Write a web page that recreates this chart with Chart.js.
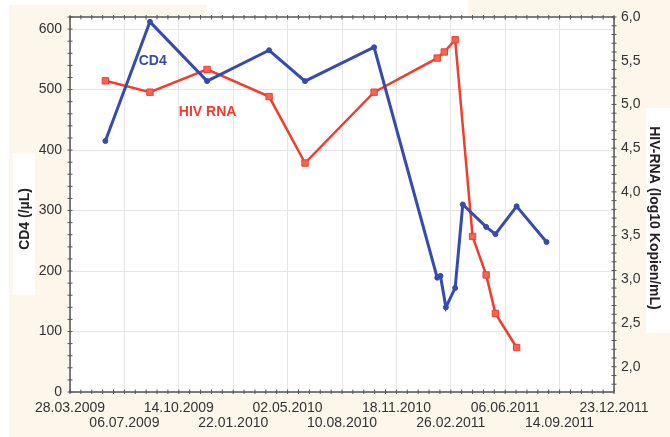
<!DOCTYPE html>
<html>
<head>
<meta charset="utf-8">
<script src="https://cdn.jsdelivr.net/npm/chart.js@4.4.1/dist/chart.umd.min.js"></script>
<style>
  html, body { margin: 0; padding: 0; background: #fcf7ea; }
</style>
</head>
<body>
<canvas id="grafico" width="670" height="437"></canvas>
<script>
// x ticks, every 100 days
const tickDates = ["28.03.2009", "06.07.2009", "14.10.2009", "22.01.2010", "02.05.2010", "10.08.2010",
                   "18.11.2010", "26.02.2011", "06.06.2011", "14.09.2011", "23.12.2011"];
const cd4Ticks = [0, 100, 200, 300, 400, 500, 600];
const rnaTicks = [2.0, 2.5, 3.0, 3.5, 4.0, 4.5, 5.0, 5.5, 6.0];

// CD4 (/µL)
const cd4Dates = ["01.06.2009", "22.08.2009", "05.12.2009", "29.03.2010", "03.06.2010", "08.10.2010",
                  "01.02.2011", "07.02.2011", "17.02.2011", "06.03.2011", "20.03.2011", "02.05.2011",
                  "19.05.2011", "27.06.2011", "21.08.2011"];
const cd4Values = [415, 612, 514, 565, 514, 570, 189, 192, 140, 172, 310, 273, 261, 307, 248];

// HIV-RNA (log10 Kopien/mL)
const rnaDates = ["01.06.2009", "22.08.2009", "05.12.2009", "29.03.2010", "03.06.2010", "08.10.2010",
                  "01.02.2011", "14.02.2011", "06.03.2011", "07.04.2011", "02.05.2011", "19.05.2011",
                  "27.06.2011"];
const rnaValues = [5.27, 5.14, 5.40, 5.09, 4.33, 5.14, 5.53, 5.60, 5.74, 3.49, 3.05, 2.61, 2.22];

const azul = "rgb(55,75,175)";
const rojo = "rgb(242,60,44)";
const crema = "#fcf7ea";

// days since first tick
const aDias = (s) => {
  const [d, m, y] = s.split(".").map(Number);
  return (Date.UTC(y, m - 1, d) - Date.UTC(2009, 2, 28)) / 86400000;
};
const comaDecimal = (v) => v.toFixed(1).replace(".", ",");

const fondo = {
  id: "fondo",
  beforeDraw(chart) {
    const ctx = chart.ctx;
    const a = chart.chartArea;
    ctx.save();
    ctx.fillStyle = crema;
    ctx.fillRect(0, 0, chart.width, chart.height);
    ctx.fillStyle = "#ffffff";
    ctx.fillRect(0, 0, 468, 5);
    ctx.fillRect(207, 0, 261, 17);
    ctx.fillRect(0, 0, 9, chart.height);
    ctx.fillRect(13, 153, 22, 142);
    ctx.fillRect(646, 108, 24, 225);
    ctx.fillRect(a.left, a.top, a.right - a.left, a.bottom - a.top);
    ctx.restore();
  }
};

const marco = {
  id: "marco",
  afterDraw(chart) {
    const ctx = chart.ctx;
    const a = chart.chartArea;
    const sx = chart.scales.x, sy = chart.scales.y, sr = chart.scales.y1;
    ctx.save();
    ctx.strokeStyle = "#555";
    ctx.lineWidth = 1.5;
    ctx.strokeRect(a.left, a.top, a.right - a.left, a.bottom - a.top);
    ctx.lineWidth = 1;
    ctx.beginPath();
    for (let d = 0; d <= 1000; d += 20) {
      const px = sx.getPixelForValue(d);
      ctx.moveTo(px, a.bottom - 2.5); ctx.lineTo(px, a.bottom + 2);
      ctx.moveTo(px, a.top - 2); ctx.lineTo(px, a.top + 2.5);
    }
    for (let v = 0; v <= 620; v += 20) {
      const py = sy.getPixelForValue(v);
      ctx.moveTo(a.left - 2.5, py); ctx.lineTo(a.left + 2.5, py);
    }
    for (let i = 18; i <= 60; i++) {
      const py = sr.getPixelForValue(i / 10);
      ctx.moveTo(a.right - 2.5, py); ctx.lineTo(a.right + 2.5, py);
    }
    ctx.stroke();

    // axis titles
    ctx.fillStyle = "#222";
    ctx.font = "bold 14px 'Liberation Sans', Arial, sans-serif";
    ctx.textAlign = "center";
    ctx.textBaseline = "middle";
    ctx.translate(25, 219);
    ctx.rotate(-Math.PI / 2);
    ctx.fillText("CD4 (/µL)", 0, 0);
    ctx.setTransform(1, 0, 0, 1, 0, 0);
    ctx.translate(654, 218);
    ctx.rotate(Math.PI / 2);
    ctx.fillText("HIV-RNA (log10 Kopien/mL)", 0, 0);
    ctx.setTransform(1, 0, 0, 1, 0, 0);

    // series labels
    ctx.fillStyle = azul;
    ctx.fillText("CD4", sx.getPixelForValue(152), sy.getPixelForValue(547));
    ctx.fillStyle = rojo;
    ctx.fillText("HIV RNA", sx.getPixelForValue(253), sy.getPixelForValue(463));
    ctx.restore();
  }
};

const fuenteTicks = { family: "'Liberation Sans', Arial, sans-serif", size: 14, lineHeight: 1.1 };

const data = {
  datasets: [
    {
      label: "CD4",
      data: cd4Dates.map((d, i) => ({ x: aDias(d), y: cd4Values[i] })),
      borderColor: azul,
      backgroundColor: azul,
      borderWidth: 3,
      pointStyle: "circle",
      pointRadius: 2.5,
      pointBorderWidth: 1,
      yAxisID: "y",
      order: 1
    },
    {
      label: "HIV RNA",
      data: rnaDates.map((d, i) => ({ x: aDias(d), y: rnaValues[i] })),
      borderColor: rojo,
      backgroundColor: "rgb(246,100,86)",
      borderWidth: 2.5,
      pointStyle: "rect",
      pointRadius: 4.5,
      pointBorderWidth: 1,
      yAxisID: "y1",
      order: 2
    }
  ]
};

const config = {
  type: "line",
  data: data,
  options: {
    responsive: false,
    animation: false,
    layout: { padding: { top: 17, left: 0, right: 0, bottom: 0 } },
    plugins: { legend: { display: false }, tooltip: { enabled: false } },
    elements: { line: { tension: 0 } },
    scales: {
      x: {
        type: "linear",
        min: 0,
        max: 1000,
        afterBuildTicks: (s) => { s.ticks = tickDates.map((t) => ({ value: aDias(t) })); },
        afterFit: (s) => { s.height = 45; },
        grid: { color: "#e6e6e6", drawTicks: false },
        border: { display: false },
        ticks: {
          autoSkip: false,
          maxRotation: 0,
          padding: 8,
          color: "#333",
          font: fuenteTicks,
          callback: (v, i) => (i % 2 === 0 ? [tickDates[i], ""] : ["", tickDates[i]])
        }
      },
      y: {
        position: "left",
        min: 0,
        max: 620,
        afterBuildTicks: (s) => { s.ticks = cd4Ticks.map((v) => ({ value: v })); },
        afterFit: (s) => { s.width = 70; },
        grid: { color: "#e6e6e6", drawTicks: false },
        border: { display: false },
        ticks: { padding: 8, color: "#333", font: fuenteTicks }
      },
      y1: {
        position: "right",
        min: 1.711,
        max: 6.0,
        afterBuildTicks: (s) => { s.ticks = rnaTicks.map((v) => ({ value: v })); },
        afterFit: (s) => { s.width = 56; },
        grid: { drawOnChartArea: false, drawTicks: false },
        border: { display: false },
        ticks: { padding: 7, color: "#333", font: fuenteTicks, callback: (v) => comaDecimal(v) }
      }
    }
  },
  plugins: [fondo, marco]
};

const myChart = new Chart(document.getElementById("grafico"), config);
</script>
</body>
</html>
